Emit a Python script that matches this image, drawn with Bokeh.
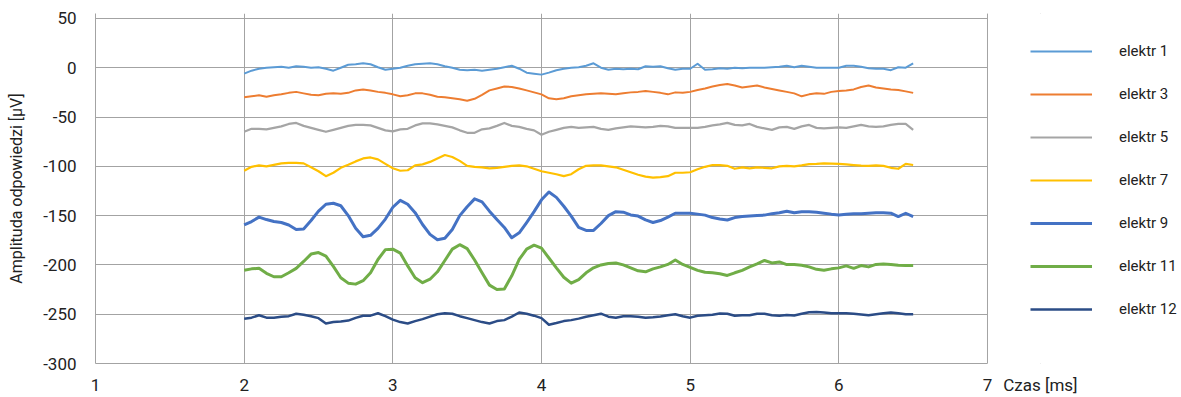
from bokeh.plotting import figure
from bokeh.models import Range1d, FixedTicker, Legend, LegendItem, BoxAnnotation, Span
from bokeh.embed import file_html
from bokeh.resources import INLINE

FONT = "Roboto"

time_ms = [2.00, 2.05, 2.10, 2.15, 2.20, 2.25, 2.30, 2.35, 2.40, 2.45,
           2.50, 2.55, 2.60, 2.65, 2.70, 2.75, 2.80, 2.85, 2.90, 2.95,
           3.00, 3.05, 3.10, 3.15, 3.20, 3.25, 3.30, 3.35, 3.40, 3.45,
           3.50, 3.55, 3.60, 3.65, 3.70, 3.75, 3.80, 3.85, 3.90, 3.95,
           4.00, 4.05, 4.10, 4.15, 4.20, 4.25, 4.30, 4.35, 4.40, 4.45,
           4.50, 4.55, 4.60, 4.65, 4.70, 4.75, 4.80, 4.85, 4.90, 4.95,
           5.00, 5.05, 5.10, 5.15, 5.20, 5.25, 5.30, 5.35, 5.40, 5.45,
           5.50, 5.55, 5.60, 5.65, 5.70, 5.75, 5.80, 5.85, 5.90, 5.95,
           6.00, 6.05, 6.10, 6.15, 6.20, 6.25, 6.30, 6.35, 6.40, 6.45, 6.50]

elektr_1 = [-6, -3, -1, 0, 0.5, 1, 0, 1.5, 1, 0,
            0.5, -1, -3, 0, 3, 3.5, 4.5, 3.5, 0.5, -2,
            -1, 0, 2, 3.5, 4, 4.5, 3.5, 1.5, 0, -2,
            -2.5, -2, -3, -2, -1, 0.5, 2, -1, -5, -6,
            -7, -5, -2.5, -1, 0, 0.5, 2, 4.5, 0, -2,
            -1, -1.5, -1, -1.5, 1.5, 1, 1.5, -0.5, -2, -1,
            -1, 4, -2, -1.5, -0.5, -1, 0, -0.5, 0, 0,
            0, 0.5, 1, 2, 0.5, 2, 1, 0, 0, 0,
            0, 2, 2, 1, -0.5, -1, -1, -2.5, 0.5, 0, 4.5]

elektr_3 = [-30, -29, -28, -29.5, -28, -27, -25.5, -24.5, -26, -27.5,
            -28, -26.5, -26, -26.5, -25.5, -23, -22, -23, -24.5, -25.5,
            -27, -29, -28, -26, -26, -27.5, -29.5, -30, -31, -32,
            -33.5, -31.5, -27.5, -23, -21, -19, -19.5, -21, -23, -25,
            -27, -31, -32, -31, -29, -28, -27, -26.5, -26, -26.5,
            -27, -26, -25, -24.5, -23.5, -24.5, -25.5, -27, -25, -25.5,
            -24.5, -22.5, -21, -19, -17.5, -16.5, -18, -20, -19, -18,
            -20, -21.5, -23, -24.5, -26, -29, -27, -26, -26.5, -24.5,
            -23.5, -23, -22, -19.5, -18, -20, -21, -22, -22.5, -24, -25.5]

elektr_5 = [-65, -62, -62, -62.5, -61, -59.5, -57, -56, -59, -61,
            -63, -65, -63, -61, -59, -58, -58, -58.5, -61, -63.5,
            -64.5, -62.5, -62, -58.5, -56.5, -56.5, -57.5, -59, -60.5, -63.5,
            -66, -66, -62.5, -61.5, -59, -56, -59, -60, -62, -63.5,
            -68, -65, -63, -61, -60, -61, -60.5, -60, -62, -63,
            -61.5, -60.5, -59.5, -60, -60.5, -60, -59, -59.5, -61, -61,
            -61, -61, -60, -58.5, -57.5, -56, -58, -58.5, -57, -60,
            -61.5, -63, -60.5, -60, -62, -59.5, -58, -61, -61.5, -61,
            -60.5, -61, -59.5, -58, -59.5, -60, -59.5, -58, -57, -57, -63]

elektr_7 = [-104.5, -100.5, -99, -100, -98.5, -97, -96.5, -96.5, -97, -101,
            -105, -110, -106.5, -101.5, -98.5, -95, -92, -91, -93, -97.5,
            -102, -104.5, -104, -99, -98, -95.5, -92, -88.5, -90.5, -94.5,
            -99.5, -100.5, -101, -102, -101.5, -100.5, -99.5, -99, -100, -102.5,
            -105, -106.5, -108, -110, -108, -103, -99.5, -99, -99, -100,
            -101, -103.5, -106, -108.5, -110.5, -111.5, -111, -110, -106.5, -106.5,
            -106, -103, -100.5, -98.7, -98.7, -99.5, -102.5, -101, -102, -101,
            -101.5, -102, -100, -99.5, -100, -99, -97.7, -97.5, -97, -97.3,
            -97.6, -98, -98.7, -99.3, -99.5, -99, -99.5, -101.5, -102.5, -97.6, -98.7]

elektr_9 = [-159.5, -156, -151.5, -154, -156, -157, -159.5, -164, -163.5, -155,
            -145.5, -138.5, -137.5, -140, -150, -162.8, -171.5, -170, -163, -153.5,
            -141.5, -134.5, -138.5, -147, -159, -169, -174.5, -173, -164, -150,
            -141, -133, -136, -145.5, -154, -162, -172.5, -167.5, -157, -146,
            -134, -126, -131.5, -140.5, -150.5, -162, -165, -165, -158, -150,
            -146, -146.5, -149.3, -150.5, -154.4, -157, -155, -151.5, -147.6, -147.6,
            -147.6, -148.5, -149.5, -152, -153.5, -154.4, -152, -151, -150.5, -150,
            -149.5, -148, -147, -145.5, -147, -146, -146, -146.5, -147.5, -148.5,
            -149.3, -148.5, -148, -148, -147.5, -147, -147, -147.5, -151, -147.6, -151]

elektr_11 = [-205.5, -204, -203.5, -208.5, -212, -212, -208, -203.5, -196.5, -189,
             -187.5, -191, -201.5, -213, -218.5, -219.5, -216, -208, -194.5, -184.5,
             -184, -188, -201, -213, -218, -214.5, -207, -195.5, -184, -179.5,
             -183.5, -195, -208, -220.5, -225, -224.5, -211, -194.5, -184, -180,
             -183, -193, -203, -212.5, -218.5, -215, -208, -203, -200, -198.5,
             -198, -200, -203, -206, -207, -204, -202, -199.5, -195, -199.5,
             -202.5, -205.5, -207.5, -208, -209, -210.7, -208, -205.5, -202, -199,
             -195.5, -198, -197, -199.7, -199.7, -200.3, -202, -204.5, -205.5, -204,
             -203, -201, -203.5, -200.7, -202, -199.5, -199, -199.5, -200.3, -200.7, -200.7]

elektr_12 = [-254.5, -253.5, -251, -253.5, -253.5, -252.5, -252, -249.5, -250.5, -252,
             -254, -259.4, -258, -257.5, -256.5, -253.7, -251.5, -251.5, -249, -252,
             -255.5, -258, -259.4, -257, -255, -252.5, -250, -249, -249.5, -252,
             -254, -256, -258, -259.4, -257, -256, -252.5, -248.3, -249.5, -251.5,
             -254, -260.7, -259, -257, -256, -254.5, -252.5, -251, -249.5, -252.5,
             -253.5, -252, -252, -252.5, -253.5, -253, -252.3, -251, -250, -252,
             -253.5, -251.5, -251, -250.5, -249.3, -249.5, -251.5, -251, -251, -249.5,
             -249.5, -251, -251.5, -250.7, -251.3, -249.5, -248, -247.7, -248.3, -249,
             -249, -249, -249.5, -250.2, -251, -250, -249, -248.3, -249, -250, -250]

series_names = ["elektr 1", "elektr 3", "elektr 5", "elektr 7", "elektr 9", "elektr 11", "elektr 12"]
series_values = [elektr_1, elektr_3, elektr_5, elektr_7, elektr_9, elektr_11, elektr_12]
series_colors = ["#5B9BD5", "#ED7D31", "#A5A5A5", "#FFC000", "#4472C4", "#70AD47", "#2B4C86"]
series_widths = [2, 2, 2.2, 2.2, 3, 3, 2.5]

x_ticks = [1, 2, 3, 4, 5, 6, 7]
y_ticks = [-300, -250, -200, -150, -100, -50, 0, 50]
y_tick_labels = ["-300", "-250", "-200", "-150", "-100", "-50", "0", "50"]
x_title = "Czas [ms]"
x_title_pos = 7.356
y_title = "Amplituda odpowiedzi [µV]"

GRID = "#a3a3a3"
TEXT = "#222222"

p = figure(width=1181, height=397, output_backend="svg", toolbar_location=None,
           x_range=Range1d(1, 8.305), y_range=Range1d(-300, 55),
           min_border_left=95, min_border_right=0, min_border_top=13, min_border_bottom=33,
           background_fill_color="white", border_fill_color="white")
p.outline_line_color = None

p.xaxis.ticker = FixedTicker(ticks=x_ticks + [x_title_pos])
p.xaxis.major_label_overrides = {x_title_pos: x_title}
p.xaxis.bounds = (1, 7)
p.yaxis.ticker = FixedTicker(ticks=y_ticks)
p.yaxis.major_label_overrides = dict(zip(y_ticks, y_tick_labels))
for ax in (p.xaxis[0], p.yaxis[0]):
    ax.axis_line_color = GRID
    ax.major_tick_line_color = None
    ax.minor_tick_line_color = None
    ax.major_tick_out = 0
    ax.major_tick_in = 0
    ax.minor_tick_out = 0
    ax.minor_tick_in = 0
    ax.major_label_text_font = FONT
    ax.major_label_text_font_size = "17px"
    ax.major_label_text_color = TEXT
p.xaxis.major_label_standoff = 11
p.yaxis.major_label_standoff = 19
p.yaxis.axis_label = y_title
p.yaxis.axis_label_text_font = FONT
p.yaxis.axis_label_text_font_size = "16px"
p.yaxis.axis_label_text_font_style = "normal"
p.yaxis.axis_label_text_color = TEXT
p.yaxis.axis_label_standoff = 14

p.xgrid.grid_line_color = GRID
p.ygrid.grid_line_color = GRID

renderers = []
for vals, col, w in zip(series_values, series_colors, series_widths):
    renderers.append(p.line(time_ms, vals, line_color=col, line_width=w, line_join="round"))

# white mask over the legend area (right of x = 7) and the border line at x = 7
p.add_layout(BoxAnnotation(left=7, fill_color="white", fill_alpha=1.0, line_color=None))
p.add_layout(Span(location=7, dimension="height", line_color=GRID, line_width=1))

items = [LegendItem(label=name, renderers=[r]) for name, r in zip(series_names, renderers)]

legend = Legend(items=items, location=(935, 43), orientation="vertical",
                glyph_width=62, glyph_height=22, label_height=22, spacing=21,
                label_standoff=27, padding=0, margin=0,
                border_line_color=None, background_fill_alpha=0,
                label_text_font=FONT, label_text_font_size="15px", label_text_color=TEXT)
p.add_layout(legend)

open("out.html", "w").write(file_html(p, INLINE))
